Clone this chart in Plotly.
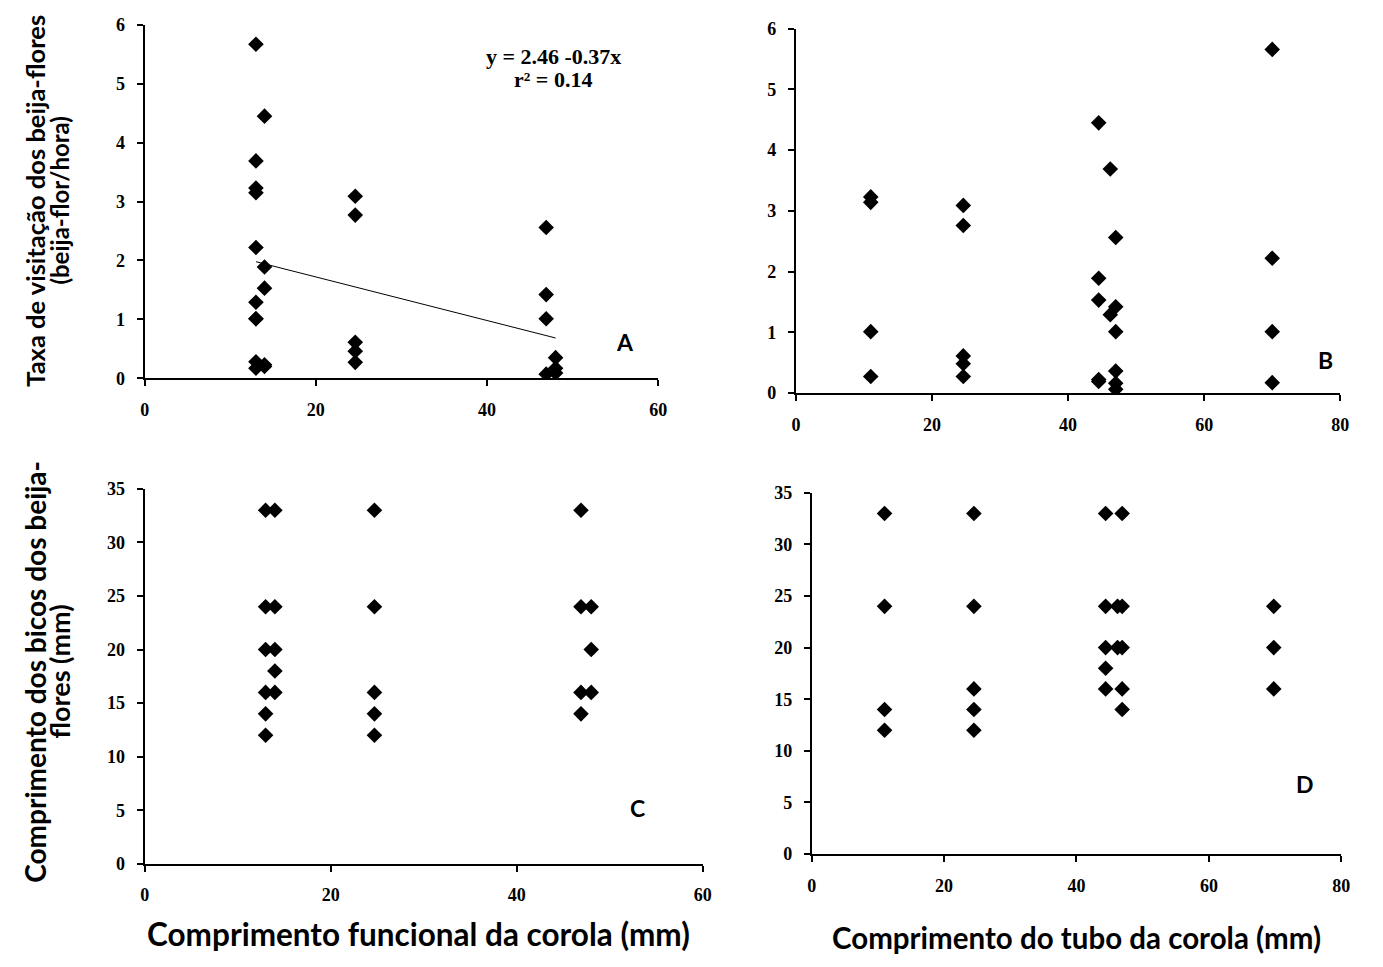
import plotly.graph_objects as go

# ---------------- data ----------------
# Panel A: functional corolla length (mm) vs visitation rate (visits/hour)
a_corolla = [13, 13, 13, 13, 13, 13, 13, 13, 13, 13,
             14, 14, 14, 14, 14,
             24.6, 24.6, 24.6, 24.6, 24.6,
             46.9, 46.9, 46.9, 46.9,
             48, 48, 48]
a_visits = [5.67, 3.69, 3.23, 3.15, 2.22, 1.29, 1.01, 1.01, 0.28, 0.17,
            4.45, 1.89, 1.53, 0.23, 0.20,
            3.09, 2.77, 0.61, 0.46, 0.27,
            2.56, 1.42, 1.01, 0.07,
            0.35, 0.17, 0.09]
reg_intercept = 2.46
reg_slope = -0.037
reg_x = [13, 48]

# Panel B: corolla tube length (mm) vs visitation rate
b_tube = [11, 11, 11, 11,
          24.6, 24.6, 24.6, 24.6, 24.6,
          44.5, 44.5, 44.5, 44.5, 44.5,
          46.2, 46.2,
          47, 47, 47, 47, 47, 47,
          70, 70, 70, 70]
b_visits = [3.23, 3.14, 1.01, 0.27,
            3.09, 2.76, 0.61, 0.48, 0.27,
            4.45, 1.89, 1.53, 0.22, 0.19,
            3.69, 1.29,
            2.56, 1.42, 1.01, 0.36, 0.16, 0.06,
            5.66, 2.22, 1.01, 0.17]

# Panel C: functional corolla length vs bill length (mm)
c_corolla = [13, 13, 13, 13, 13, 13,
             14, 14, 14, 14, 14,
             24.7, 24.7, 24.7, 24.7, 24.7,
             46.9, 46.9, 46.9, 46.9,
             48, 48, 48]
c_bill = [33, 24, 20, 16, 14, 12,
          33, 24, 20, 18, 16,
          33, 24, 16, 14, 12,
          33, 24, 16, 14,
          24, 20, 16]

# Panel D: corolla tube length vs bill length (mm)
d_tube = [11, 11, 11, 11,
          24.5, 24.5, 24.5, 24.5, 24.5,
          44.4, 44.4, 44.4, 44.4, 44.4,
          46.2, 46.2,
          46.9, 46.9, 46.9, 46.9, 46.9,
          69.8, 69.8, 69.8]
d_bill = [33, 24, 14, 12,
          33, 24, 16, 14, 12,
          33, 24, 20, 18, 16,
          24, 20,
          33, 24, 20, 16, 14,
          24, 20, 16]

# ---------------- figure ----------------
# the page keeps the browser's default 8px body margin, so the figure is
# sized to fill the 1383x967 window exactly with that margin around it
OFF = 8
FW, FH = 1383 - 2 * OFF, 967 - 2 * OFF
fig = go.Figure()

marker = dict(symbol="diamond", size=12, color="black", line=dict(width=0))

fig.add_trace(go.Scatter(x=a_corolla, y=a_visits, mode="markers", marker=marker,
                         xaxis="x", yaxis="y", showlegend=False))
fig.add_trace(go.Scatter(x=reg_x, y=[reg_intercept + reg_slope * v for v in reg_x],
                         mode="lines", line=dict(color="black", width=1),
                         xaxis="x", yaxis="y", showlegend=False))
fig.add_trace(go.Scatter(x=b_tube, y=b_visits, mode="markers", marker=marker,
                         xaxis="x2", yaxis="y2", showlegend=False))
fig.add_trace(go.Scatter(x=c_corolla, y=c_bill, mode="markers", marker=marker,
                         xaxis="x3", yaxis="y3", showlegend=False))
fig.add_trace(go.Scatter(x=d_tube, y=d_bill, mode="markers", marker=marker,
                         xaxis="x4", yaxis="y4", showlegend=False))

tickfont = dict(family="Liberation Serif", size=18, color="black", weight="bold")


def px_x(p):
    return (p - OFF) / FW


def px_y(p):
    return 1 - (p - OFF) / FH


def xdom(a, b):
    return [px_x(a), px_x(b)]


def ydom(top, bottom):
    return [px_y(bottom), px_y(top)]


def ax(domain, rng, dtick, anchor, standoff):
    return dict(domain=domain, range=rng, dtick=dtick, tick0=0, anchor=anchor,
                showline=True, linecolor="black", linewidth=2,
                ticks="outside", ticklen=6, tickwidth=2, tickcolor="black",
                ticklabelstandoff=standoff,
                showgrid=False, zeroline=False, tickfont=tickfont, fixedrange=True)


fig.update_layout(
    width=FW, height=FH,
    margin=dict(l=0, r=0, t=0, b=0),
    paper_bgcolor="white", plot_bgcolor="white",
    xaxis=ax(xdom(141, 660), [0, 60], 20, "y", 8),
    yaxis=ax(ydom(15, 376), [0, 6], 1, "x", 8),
    xaxis2=ax(xdom(799, 1349), [0, 80], 20, "y2", 8),
    yaxis2=ax(ydom(19, 391), [0, 6], 1, "x2", 8),
    xaxis3=ax(xdom(141, 705), [0, 60], 20, "y3", 8),
    yaxis3=ax(ydom(489, 872), [0, 35], 5, "x3", 8),
    xaxis4=ax(xdom(815, 1350), [0, 80], 20, "y4", 8),
    yaxis4=ax(ydom(493, 862), [0, 35], 5, "x4", 8),
)


def tfont(size):
    return dict(family="Lato", size=size, color="black", weight="bold")


eq_font = dict(family="Liberation Serif", size=22, color="black", weight="bold")


def ann(text, x, y, font, angle=0):
    fig.add_annotation(text=text, x=px_x(x), y=px_y(y), xref="paper", yref="paper",
                       showarrow=False, font=font, textangle=angle,
                       xanchor="center", yanchor="middle", align="center")


ann("Taxa de visitação dos beija-flores", 30, 195, tfont(25.5), -90)
ann("(beija-flor/hora)", 55, 195, tfont(24), -90)
ann("Comprimento dos bicos dos beija-", 30, 676, tfont(28), -90)
ann("flores (mm)", 55, 676, tfont(27), -90)
ann("Comprimento funcional da corola (mm)", 418, 944, tfont(31.5))
ann("Comprimento do tubo da corola (mm)", 1082, 947, tfont(29.5))

ann("A", 626, 339, tfont(23))
ann("B", 1334, 357, tfont(23))
ann("C", 639, 815, tfont(23))
ann("D", 1313, 790, tfont(23))

ann("y = 2.46 -0.37x", 554, 47, eq_font)
ann("r² = 0.14", 554, 71, eq_font)

fig.write_html("out.html", config={"displayModeBar": False})
